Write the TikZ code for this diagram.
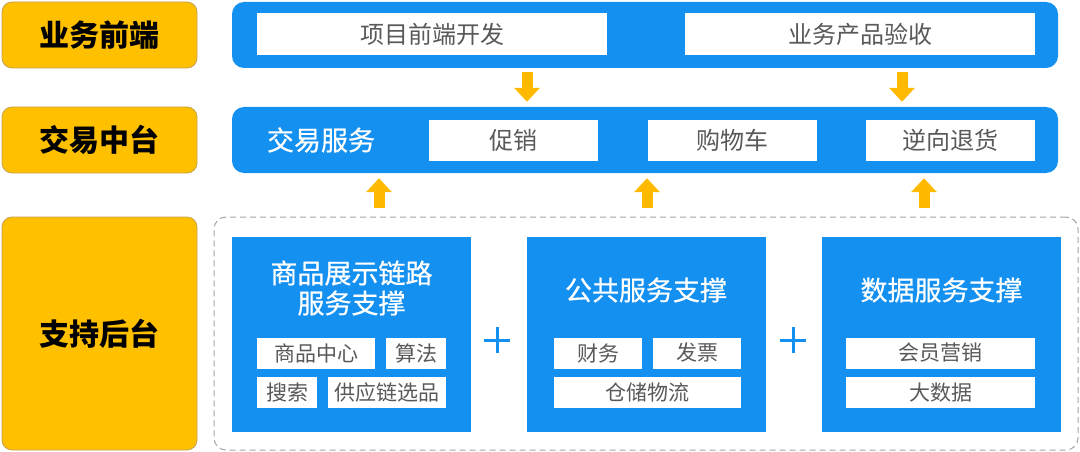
\documentclass[tikz,border=0pt]{standalone}
\usepackage{fontspec}
\setmainfont{Noto Sans CJK SC}
\usepackage{tikz}
\usetikzlibrary{arrows.meta}

\definecolor{barblue}{RGB}{20,144,240}
\definecolor{tiergold}{RGB}{255,192,0}
\definecolor{tieredge}{RGB}{196,160,84}
\definecolor{arrowgold}{RGB}{255,186,0}
\definecolor{itemgray}{RGB}{89,89,89}
\definecolor{dashgray}{RGB}{165,165,165}

\tikzset{
	tierbox/.style={fill=tiergold, draw=tieredge, line width=0.8pt, rounded corners=10pt, inner sep=0pt, minimum width=195pt, font=\fontsize{30}{36}\selectfont\bfseries},
	bluebar/.style={fill=barblue, rounded corners=12pt, inner sep=0pt, minimum width=826pt, minimum height=66pt},
	whitebox/.style={fill=white, inner sep=0pt, text=itemgray},
	topitem/.style={whitebox, minimum width=350pt, minimum height=42pt, font=\fontsize{24}{28}\selectfont},
	miditem/.style={whitebox, minimum width=169pt, minimum height=41pt, font=\fontsize{24}{28}\selectfont},
	subitem/.style={whitebox, minimum height=31pt, font=\fontsize{21}{25}\selectfont},
	pillar/.style={fill=barblue, inner sep=0pt, minimum width=239pt, minimum height=195pt},
	pillartitle/.style={text=white, inner sep=0pt, align=center, font=\fontsize{27}{30}\selectfont\addfontfeatures{FakeBold=0.6}},
	backframe/.style={draw=dashgray, line width=1pt, dash pattern=on 6pt off 4pt, rounded corners=12pt, minimum width=864pt, minimum height=233pt},
	goldarrow/.style={draw=arrowgold, line width=11pt, -{Triangle[width=25pt,length=14pt]}},
	plusmark/.style={draw=barblue, line width=3pt},
}

\begin{document}
\begin{tikzpicture}[x=1pt,y=-1pt]
	\useasboundingbox (0,0) rectangle (1080,452);
	% tiers on the left
	\node [tierbox, minimum height=66pt] (tierfront) at (99.5,35) {业务前端};
	\node [tierbox, minimum height=66pt] (tiermid) at (99.5,140) {交易中台};
	\node [tierbox, minimum height=233pt] (tierback) at (99.5,333.5) {支持后台};
	% front
	\node [bluebar] (frontbar) at (645,35) {};
	\node [topitem] (projdev) at (432,34) {项目前端开发};
	\node [topitem] (accept) at (860,34) {业务产品验收};
	% middle
	\node [bluebar] (midbar) at (645,140) {};
	\node [pillartitle] (trade) at (321,140) {交易服务};
	\node [miditem] (promo) at (513.5,140.5) {促销};
	\node [miditem] (cart) at (732,140.5) {购物车};
	\node [miditem] (refund) at (950.5,140.5) {逆向退货};
	% back
	\node [backframe] (frame) at (646,333.5) {};
	\node [pillar] (goods) at (351.5,334.5) {};
	\node [pillar] (common) at (646,334.5) {};
	\node [pillar] (data) at (941.5,334.5) {};
	\node [pillartitle] (goodstitle) at (351.5,288) {商品展示链路\\服务支撑};
	\node [pillartitle] (commontitle) at (646,290) {公共服务支撑};
	\node [pillartitle] (datatitle) at (941.5,290) {数据服务支撑};
	\node [subitem, minimum width=118pt] (goodscenter) at (316,353) {商品中心};
	\node [subitem, minimum width=60pt] (algo) at (416,353) {算法};
	\node [subitem, minimum width=60pt] (search) at (287,392.5) {搜索};
	\node [subitem, minimum width=118pt] (supply) at (387,392.5) {供应链选品};
	\node [subitem, minimum width=88pt] (finance) at (598,353) {财务};
	\node [subitem, minimum width=88pt] (invoice) at (697,353) {发票};
	\node [subitem, minimum width=187pt] (storage) at (647.5,392.5) {仓储物流};
	\node [subitem, minimum width=189pt] (member) at (940.5,353) {会员营销};
	\node [subitem, minimum width=189pt] (bigdata) at (940.5,392.5) {大数据};
	\draw [plusmark] (497,327) -- (497,353) (484,340) -- (510,340);
	\draw [plusmark] (793,327) -- (793,353) (780,340) -- (806,340);
	% arrows
	\draw [goldarrow, shorten <=4pt, shorten >=5pt] (527,0 |- frontbar.south) -- (527,0 |- midbar.north);
	\draw [goldarrow, shorten <=4pt, shorten >=5pt] (902,0 |- frontbar.south) -- (902,0 |- midbar.north);
	\draw [goldarrow, shorten <=9pt, shorten >=5pt] (379,0 |- frame.north) -- (379,0 |- midbar.south);
	\draw [goldarrow, shorten <=9pt, shorten >=5pt] (647,0 |- frame.north) -- (647,0 |- midbar.south);
	\draw [goldarrow, shorten <=9pt, shorten >=5pt] (924,0 |- frame.north) -- (924,0 |- midbar.south);
\end{tikzpicture}
\end{document}
